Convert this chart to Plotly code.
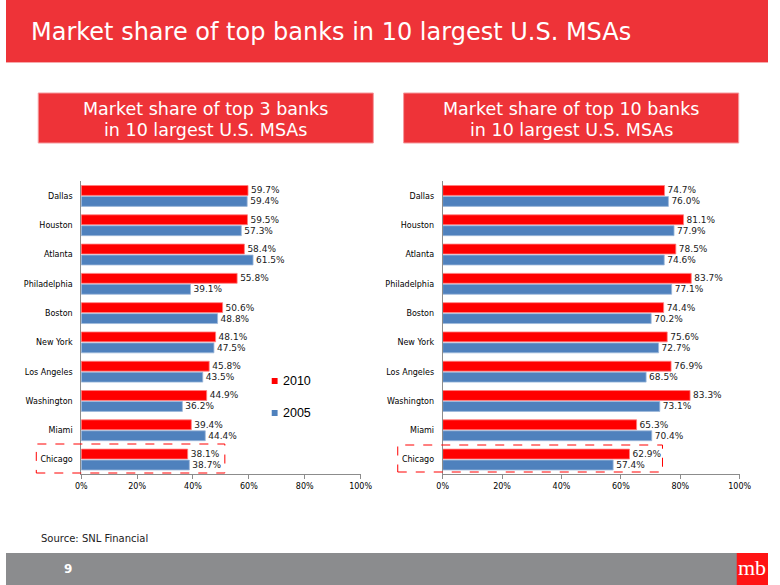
import plotly.graph_objects as go

# ---------------- data ----------------
cities = ["Dallas", "Houston", "Atlanta", "Philadelphia", "Boston",
          "New York", "Los Angeles", "Washington", "Miami", "Chicago"]
top3_2010 = [59.7, 59.5, 58.4, 55.8, 50.6, 48.1, 45.8, 44.9, 39.4, 38.1]
top3_2005 = [59.4, 57.3, 61.5, 39.1, 48.8, 47.5, 43.5, 36.2, 44.4, 38.7]
top10_2010 = [74.7, 81.1, 78.5, 83.7, 74.4, 75.6, 76.9, 83.3, 65.3, 62.9]
top10_2005 = [76.0, 77.9, 74.6, 77.1, 70.2, 72.7, 68.5, 73.1, 70.4, 57.4]
tick_vals = [0, 20, 40, 60, 80, 100]
tick_text = ["0%", "20%", "40%", "60%", "80%", "100%"]
series_names = ["2010", "2005"]

W, H = 780, 585
RED = "#FF0000"
BLUE = "#4F81BD"
BANNER = "#EE3338"
FONT = "DejaVu Sans"


def px(x):
    return x / W


def py(y):
    return 1 - y / H


fig = go.Figure()

for (v2010, v2005, xa, ya) in [(top3_2010, top3_2005, "x", "y"),
                               (top10_2010, top10_2005, "x2", "y2")]:
    for name, vals, col, edge in [(series_names[0], v2010, RED, "#FF7F7F"),
                                  (series_names[1], v2005, BLUE, "#9DB7D9")]:
        fig.add_trace(go.Bar(
            name=name, y=cities, x=vals, orientation="h",
            xaxis=xa, yaxis=ya, showlegend=False,
            marker=dict(color=col, line=dict(color=edge, width=0.8)),
            text=[f"{v:.1f}%" for v in vals], textposition="outside",
            constraintext="none", cliponaxis=False,
            textfont=dict(family=FONT, size=9, color="#1A1A1A"),
            hoverinfo="skip",
        ))

ydom = [py(474.2), py(181.3)]
axis_common = dict(range=[0, 100], tickvals=tick_vals, ticktext=tick_text,
                   showline=True, linecolor="#8C8C8C", linewidth=1,
                   ticks="outside", ticklen=4, tickcolor="#8C8C8C",
                   showgrid=False, zeroline=False, fixedrange=True,
                   tickfont=dict(family=FONT, size=8, color="#000000"))
yaxis_common = dict(autorange="reversed", showline=True, linecolor="#8C8C8C",
                    linewidth=1, ticks="", showgrid=False, zeroline=False,
                    ticklabelstandoff=6, domain=ydom,
                    tickfont=dict(family=FONT, size=8, color="#000000"))

fig.update_layout(
    width=W, height=H, margin=dict(l=0, r=0, t=0, b=0),
    paper_bgcolor="white", plot_bgcolor="white",
    barmode="group", bargap=0.25, bargroupgap=0.1,
    showlegend=False,
    xaxis=dict(domain=[px(77), px(363)], anchor="y", **axis_common),
    yaxis=dict(anchor="x", **yaxis_common),
    xaxis2=dict(domain=[px(447), px(751)], anchor="y2", **axis_common),
    yaxis2=dict(anchor="x2", **yaxis_common),
)

shapes = []
# title banner
shapes.append(dict(type="rect", xref="paper", yref="paper", x0=0, x1=1,
                   y0=py(62), y1=1, fillcolor=BANNER, line=dict(width=0), layer="below"))
shapes.append(dict(type="line", xref="paper", yref="paper", x0=0, x1=1,
                   y0=py(62.5), y1=py(62.5), line=dict(color="#F7A9AB", width=1)))
# subtitle boxes
for x0, x1 in [(33, 376), (407, 750)]:
    shapes.append(dict(type="rect", xref="paper", yref="paper", x0=px(x0), x1=px(x1),
                       y0=py(143), y1=py(93), fillcolor=BANNER,
                       line=dict(color="#F59A9D", width=1), layer="below"))
# dashed highlight boxes around Chicago
for x0, x1, y0, y1 in [(31, 224, 444, 473), (401, 672, 445, 472)]:
    shapes.append(dict(type="rect", xref="paper", yref="paper", x0=px(x0), x1=px(x1),
                       y0=py(y1), y1=py(y0), fillcolor="rgba(0,0,0,0)",
                       line=dict(color=RED, width=1, dash="dash")))
# manual legend squares
for yc, col in [(381, RED), (413, BLUE)]:
    shapes.append(dict(type="rect", xref="paper", yref="paper", x0=px(272), x1=px(278),
                       y0=py(yc + 3), y1=py(yc - 3), fillcolor=col, line=dict(width=0)))
# footer band
shapes.append(dict(type="rect", xref="paper", yref="paper", x0=0, x1=1,
                   y0=0, y1=py(553), fillcolor="#8B8C8E", line=dict(width=0), layer="below"))
shapes.append(dict(type="rect", xref="paper", yref="paper", x0=px(748), x1=1,
                   y0=0, y1=py(553), fillcolor="#FF1414", line=dict(width=0)))

annotations = []


def ann(text, x, y, size, color, xanchor="left", family=FONT, bold=False):
    t = f"<b>{text}</b>" if bold else text
    annotations.append(dict(text=t, x=px(x), y=py(y), xref="paper", yref="paper",
                            xanchor=xanchor, yanchor="middle", showarrow=False,
                            font=dict(family=family, size=size, color=color)))


ann("Market share of top banks in 10 largest U.S. MSAs", 24, 32, 24, "white")
ann("Market share of top 3 banks", 204.5, 109, 17.5, "white", "center")
ann("in 10 largest U.S. MSAs", 204.5, 130, 17.5, "white", "center")
ann("Market share of top 10 banks", 578.5, 109, 17.5, "white", "center")
ann("in 10 largest U.S. MSAs", 578.5, 130, 17.5, "white", "center")
ann(series_names[0], 281, 381, 12.5, "#000000", family="Liberation Sans")
ann(series_names[1], 281, 413, 12.5, "#000000", family="Liberation Sans")
ann("Source: SNL Financial", 34, 538, 10, "#222222")
ann("9", 63, 569, 12, "white", "center", bold=True)
ann("mb", 764, 567, 22, "white", "center", family="Liberation Serif")

fig.update_layout(shapes=shapes, annotations=annotations)

fig.write_html(
    "out.html",
    config={"responsive": False, "displayModeBar": False},
    post_script=("document.documentElement.style.overflow='hidden';"
                 "document.body.style.margin='0';document.body.style.overflow='hidden';"),
)
